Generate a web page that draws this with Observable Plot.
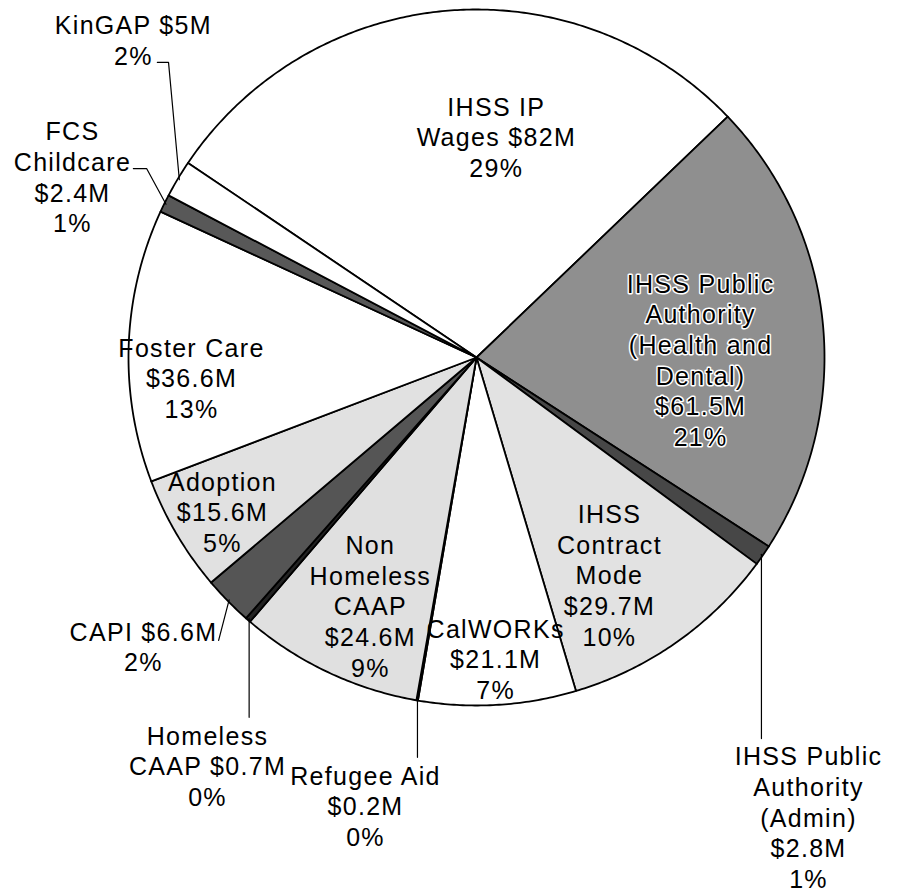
<!DOCTYPE html>
<html><head><meta charset="utf-8">
<script src="https://cdn.jsdelivr.net/npm/d3@7"></script>
<script src="https://cdn.jsdelivr.net/npm/@observablehq/plot@0.6"></script>
<style>body{margin:0;background:#fff} svg{display:block} svg text{letter-spacing:1.3px}</style>
</head><body><div id="chart"></div>
<script>
// ---- data ----
const categories = ["IHSS IP Wages", "IHSS Public Authority (Health and Dental)", "IHSS Public Authority (Admin)", "IHSS Contract Mode", "CalWORKs", "Refugee Aid", "Non Homeless CAAP", "Homeless CAAP", "CAPI", "Adoption", "Foster Care", "FCS Childcare", "KinGAP"];
const values = [82, 61.5, 2.8, 29.7, 21.1, 0.2, 24.6, 0.7, 6.6, 15.6, 36.6, 2.4, 5];
const valueLabels = ["$82M", "$61.5M", "$2.8M", "$29.7M", "$21.1M", "$0.2M", "$24.6M", "$0.7M", "$6.6M", "$15.6M", "$36.6M", "$2.4M", "$5M"];
const percentLabels = ["29%", "21%", "1%", "10%", "7%", "0%", "9%", "0%", "2%", "5%", "13%", "1%", "2%"];
const labelTexts = [
  "IHSS IP\nWages $82M\n29%",
  "IHSS Public\nAuthority\n(Health and\nDental)\n$61.5M\n21%",
  "IHSS Public\nAuthority\n(Admin)\n$2.8M\n1%",
  "IHSS\nContract\nMode\n$29.7M\n10%",
  "CalWORKs\n$21.1M\n7%",
  "Refugee Aid\n$0.2M\n0%",
  "Non\nHomeless\nCAAP\n$24.6M\n9%",
  "Homeless\nCAAP $0.7M\n0%",
  "CAPI $6.6M\n2%",
  "Adoption\n$15.6M\n5%",
  "Foster Care\n$36.6M\n13%",
  "FCS\nChildcare\n$2.4M\n1%",
  "KinGAP $5M\n2%"
];

// ---- layout & style (not data) ----
const sliceFills = ["#ffffff", "#8f8f8f", "#474747", "#e2e2e2", "#ffffff", "#e8e8e8", "#e0e0e0", "#222222", "#555555", "#e1e1e1", "#ffffff", "#585858", "#ffffff"];
// label anchors in radius units (pie centre = 0,0; radius = 1)
const labelPos = [
  [0.057, 0.635], [0.644, -0.006], [0.954, -1.320], [0.382, -0.624], [0.055, -0.865],
  [-0.319, -1.287], [-0.305, -0.713], [-0.773, -1.172], [-0.957, -0.830], [-0.730, -0.443],
  [-0.819, -0.057], [-1.161, 0.520], [-0.986, 0.914]
];
// leader elbows (radius units) for small slices; start point is computed at the slice edge
const leaderPts = {
  2: [["same", -1.095]],
  5: [["same", -1.149]],
  7: [["same", -1.034]],
  8: [[-0.741, -0.813]],
  11: [[-0.948, 0.543], [-0.986, 0.543]],
  12: [[-0.885, 0.848], [-0.917, 0.848]]
};
const W = 897, H = 894, CX = 476, CY = 357, R = 348;
const startDeg = -56;

const pie = d3.pie().sort(null).value(d => d).startAngle(startDeg * Math.PI / 180).endAngle((startDeg + 360) * Math.PI / 180);
const arcs = pie(values);

const pt = (a, r) => ({x: r * Math.sin(a), y: r * Math.cos(a)});

const marks = [];
arcs.forEach((a, i) => {
  const pts = [{x: 0, y: 0}];
  const n = Math.max(2, Math.ceil((a.endAngle - a.startAngle) / (Math.PI / 360)));
  for (let k = 0; k <= n; k++) pts.push(pt(a.startAngle + (a.endAngle - a.startAngle) * k / n, 1));
  pts.push({x: 0, y: 0});
  marks.push(Plot.line(pts, {x: "x", y: "y", fill: sliceFills[i], stroke: "#000", strokeWidth: 1.8, strokeLinejoin: "round"}));
});

// leaders
Object.entries(leaderPts).forEach(([k, elbows]) => {
  const a = arcs[+k];
  const s = pt((a.startAngle + a.endAngle) / 2, 0.995);
  const pts = [s, ...elbows.map(([ex, ey]) => ({x: ex === "same" ? s.x : ex, y: ey}))];
  marks.push(Plot.line(pts, {x: "x", y: "y", stroke: "#000", strokeWidth: 1.2}));
});

const labels = labelTexts.map((t, i) => ({text: t, x: labelPos[i][0], y: labelPos[i][1], halo: i === 1}));
const font = "'Liberation Sans', Arial, Helvetica, sans-serif";
marks.push(Plot.text(labels.filter(d => d.halo), {x: "x", y: "y", text: "text", fontSize: 25, lineHeight: 1.225, fontFamily: font, fill: "#000", stroke: "#fff", strokeWidth: 3, paintOrder: "stroke", textAnchor: "middle"}));
marks.push(Plot.text(labels.filter(d => !d.halo), {x: "x", y: "y", text: "text", fontSize: 25, lineHeight: 1.225, fontFamily: font, fill: "#000", textAnchor: "middle"}));

const chart = Plot.plot({
  width: W, height: H,
  margin: 0,
  x: {domain: [-CX / R, (W - CX) / R], axis: null},
  y: {domain: [(CY - H) / R, CY / R], axis: null},
  style: {background: "#fff"},
  marks
});
document.getElementById("chart").appendChild(chart);
</script>
</body></html>
